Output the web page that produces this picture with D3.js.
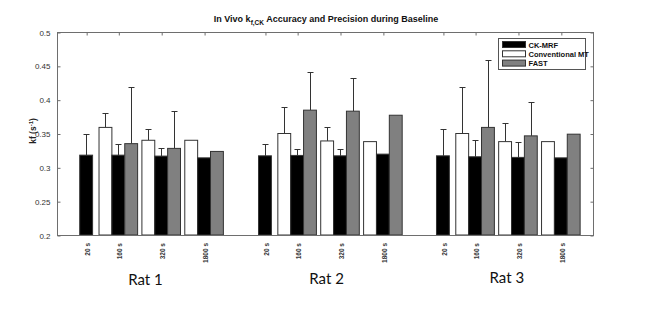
<!DOCTYPE html>
<html>
<head>
<meta charset="utf-8">
<script src="https://cdn.jsdelivr.net/npm/d3@7"></script>
<style>
  body { margin: 0; background: #fff; }
  svg { display: block; font-family: 'Liberation Sans', Arial, sans-serif; }
</style>
</head>
<body>
<div id="chart"></div>
<script>
// Categories
const rats = ['Rat 1', 'Rat 2', 'Rat 3'];
const durations = ['20 s', '160 s', '320 s', '1800 s'];
// x position of each duration tick (axis units), rat after rat
const tickPos = [0.68, 1.43, 2.43, 3.43, 4.85, 5.6, 6.6, 7.6, 9.0, 9.75, 10.75, 11.75];
const seriesNames = ['CK-MRF', 'Conventional MT', 'FAST'];

// Series values (mean kf) and upper error (SD), null = not measured
const ckMrf    = [0.318, 0.318, 0.3166, 0.314, 0.317, 0.3176, 0.317, 0.3195, 0.317, 0.3156, 0.3147, 0.314];
const ckMrfErr = [0.031, 0.016, 0.012, 0, 0.017, 0.009, 0.0095, 0, 0.039, 0.025, 0.022, 0];
const convMt    = [null, 0.359, 0.340, 0.340, null, 0.350, 0.339, 0.338, null, 0.350, 0.338, 0.338];
const convMtErr = [0, 0.021, 0.016, 0, 0, 0.039, 0.020, 0, 0, 0.069, 0.028, 0];
const fast    = [null, 0.335, 0.328, 0.3235, null, 0.3845, 0.383, 0.377, null, 0.359, 0.3465, 0.349];
const fastErr = [0, 0.084, 0.055, 0, 0, 0.057, 0.049, 0, 0, 0.100, 0.050, 0];

const yTicks = [0.2, 0.25, 0.3, 0.35, 0.4, 0.45, 0.5];

const width = 651, height = 311;
const plot = { left: 57, right: 593, top: 32, bottom: 235 };
const barW = 0.3; // bar width, axis units

const svg = d3.select('#chart').append('svg')
    .attr('width', width).attr('height', height);

const x = d3.scaleLinear().domain([0, 12.5]).range([plot.left, plot.right]);
const y = d3.scaleLinear().domain([0.2, 0.5]).range([plot.bottom, plot.top]);

// Series drawn as white / black / gray around each tick, black centred on it
const series = [
    { name: seriesNames[1], values: convMt, err: convMtErr, fill: '#ffffff', offset: -barW },
    { name: seriesNames[0], values: ckMrf, err: ckMrfErr, fill: '#000000', offset: 0 },
    { name: seriesNames[2], values: fast, err: fastErr, fill: '#808080', offset: barW }
];
const axisColor = '#6e6e6e';

// Bars
series.forEach(function(s) {
    const data = s.values.map(function(v, i) { return { v: v, e: s.err[i], p: tickPos[i] + s.offset }; })
        .filter(function(d) { return d.v !== null; });

    const g = svg.append('g');
    // error bars (upper only)
    g.selectAll('.err').data(data.filter(function(d) { return d.e > 0; }))
        .enter().append('path')
        .attr('fill', 'none').attr('stroke', '#333').attr('stroke-width', 1)
        .attr('d', function(d) {
            const cx = Math.round(x(d.p)) + 0.5, y1 = y(d.v), y2 = Math.round(y(d.v + d.e)) + 0.5;
            return 'M' + cx + ',' + y1 + 'V' + y2 + 'M' + (cx - 3) + ',' + y2 + 'H' + (cx + 3);
        });
    g.selectAll('.bar').data(data)
        .enter().append('rect')
        .attr('x', function(d) { return x(d.p - barW / 2); })
        .attr('width', x(barW) - x(0))
        .attr('y', function(d) { return y(d.v); })
        .attr('height', function(d) { return plot.bottom - y(d.v); })
        .attr('fill', s.fill)
        .attr('stroke', '#333').attr('stroke-width', 1);
});

// Axes box
svg.append('rect')
    .attr('x', plot.left + 0.5).attr('y', plot.top + 0.5)
    .attr('width', plot.right - plot.left).attr('height', plot.bottom - plot.top)
    .attr('fill', 'none').attr('stroke', axisColor).attr('stroke-width', 1);

// Y ticks (inside, on both sides) and labels
const yAxisL = d3.axisLeft(y).tickValues(yTicks).tickSizeInner(-3).tickSizeOuter(0)
    .tickPadding(7).tickFormat(function(d) { return String(d); });
svg.append('g').attr('transform', 'translate(' + (plot.left + 0.5) + ',0.5)').call(yAxisL)
    .call(function(g) {
        g.select('.domain').remove();
        g.selectAll('line').attr('stroke', axisColor);
        g.selectAll('text').attr('fill', '#333').style('font-size', '8px').style('font-family', 'Liberation Sans, Arial');
    });
const yAxisR = d3.axisRight(y).tickValues(yTicks).tickSizeInner(-3).tickSizeOuter(0).tickFormat('');
svg.append('g').attr('transform', 'translate(' + (plot.right + 0.5) + ',0.5)').call(yAxisR)
    .call(function(g) {
        g.select('.domain').remove();
        g.selectAll('line').attr('stroke', axisColor);
    });

// X ticks: top (inside) and bottom labels
const xTickLabels = tickPos.map(function(p, i) { return durations[i % durations.length]; });
const xAxisT = d3.axisTop(x).tickValues(tickPos).tickSizeInner(-3).tickSizeOuter(0).tickFormat('');
svg.append('g').attr('transform', 'translate(0.5,' + (plot.top + 0.5) + ')').call(xAxisT)
    .call(function(g) {
        g.select('.domain').remove();
        g.selectAll('line').attr('stroke', axisColor);
    });
svg.append('g').selectAll('text').data(tickPos)
    .enter().append('text')
    .attr('transform', function(d) { return 'translate(' + (x(d) + 4) + ',' + (plot.bottom + 8) + ') rotate(-90)'; })
    .attr('text-anchor', 'end')
    .attr('fill', '#333')
    .style('font-size', '6.5px').style('font-weight', 'bold')
    .text(function(d, i) { return xTickLabels[i]; });

// Y axis label
const yl = svg.append('text')
    .attr('transform', 'translate(36,131) rotate(-90)')
    .attr('text-anchor', 'middle')
    .attr('fill', '#222')
    .style('font-size', '8.5px').style('font-weight', 'bold');
yl.append('tspan').text('kf (s');
yl.append('tspan').attr('dy', '-3').style('font-size', '6px').text('-1');
yl.append('tspan').attr('dy', '3').text(')');

// Title
const title = svg.append('text')
    .attr('x', 326).attr('y', 22)
    .attr('text-anchor', 'middle')
    .attr('fill', '#111')
    .style('font-size', '9px').style('font-weight', 'bold');
title.append('tspan').text('In Vivo k');
title.append('tspan').attr('dy', '3').style('font-size', '6.5px').text('f,CK');
title.append('tspan').attr('dy', '-3').text('  Accuracy and Precision during Baseline');

// Rat group labels
const ratCenters = rats.map(function(r, i) { return d3.mean(tickPos.slice(i * 4, i * 4 + 4)); });
svg.append('g').selectAll('text').data(rats)
    .enter().append('text')
    .attr('x', function(d, i) { return x(ratCenters[i]) + 3 + i * 2.3; })
    .attr('y', function(d, i) { return 285 - i * 1.2; })
    .attr('text-anchor', 'middle')
    .attr('fill', '#111')
    .style('font-family', 'Lato, Carlito, sans-serif')
    .style('font-size', '15px')
    .text(function(d) { return d; });

// Legend
const legend = svg.append('g').attr('transform', 'translate(498.5,38.5)');
legend.append('rect').attr('width', 87).attr('height', 31)
    .attr('fill', '#fff').attr('stroke', '#555');
const legendItems = [series[1], series[0], series[2]];
legendItems.forEach(function(s, i) {
    const row = legend.append('g').attr('transform', 'translate(4,' + (3 + i * 9.3) + ')');
    row.append('rect').attr('width', 23).attr('height', 6)
        .attr('fill', s.fill).attr('stroke', '#333');
    row.append('text').attr('x', 26).attr('y', 6)
        .attr('fill', '#111')
        .style('font-size', '7.5px').style('font-weight', 'bold')
        .text(s.name);
});
</script>
</body>
</html>
